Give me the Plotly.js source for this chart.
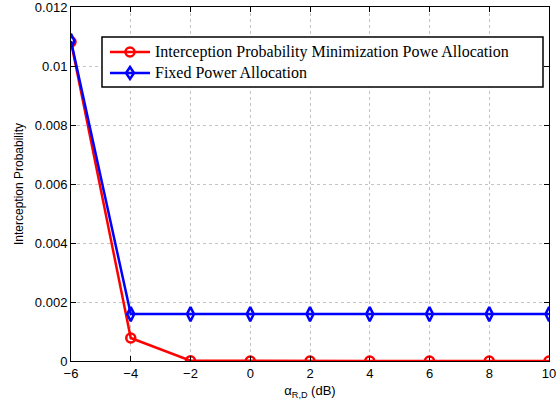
<!DOCTYPE html>
<html>
<head>
<meta charset="utf-8">
<script src="https://cdn.plot.ly/plotly-3.0.1.min.js"></script>
<style>html,body{margin:0;padding:0;background:#fff;}#chart{width:559px;height:403px;}</style>
</head>
<body>
<div id="chart"></div>
<script>
const alphaDb = [-6, -4, -2, 0, 2, 4, 6, 8, 10];
const ipMinPA = [0.01082, 0.00078, 0.00001, 0.0, 0.0, 0.0, 0.0, 0.0, 0.0];
const fixedPA = [0.01085, 0.00159, 0.00159, 0.00159, 0.00159, 0.00159, 0.00159, 0.00159, 0.00159];
const seriesNames = ['Interception Probability Minimization Powe Allocation', 'Fixed Power Allocation'];
const yTickVals = [0, 0.002, 0.004, 0.006, 0.008, 0.01, 0.012];
const yTickText = ['0', '0.002', '0.004', '0.006', '0.008', '0.01', '0.012'];
const xTickVals = [-6, -4, -2, 0, 2, 4, 6, 8, 10];
const xTickText = ['\u22126', '\u22124', '\u22122', '0', '2', '4', '6', '8', '10'];

const W = 559, H = 403, M = {l: 71, r: 10, t: 7, b: 42};
const pw = W - M.l - M.r, ph = H - M.t - M.b;
const px = x => (x - M.l) / pw;
const py = y => (H - M.b - y) / ph;

const colors = ['#ff0000', '#0000ff'];
const traces = [
  {x: alphaDb, y: ipMinPA, name: seriesNames[0], showlegend: false,
   mode: 'lines+markers', line: {color: colors[0], width: 2.5},
   marker: {symbol: 'circle-open', size: 9, color: colors[0], line: {width: 2.5}}},
  {x: alphaDb, y: fixedPA, name: seriesNames[1], showlegend: false,
   mode: 'lines+markers', line: {color: colors[1], width: 2.5},
   marker: {symbol: 'diamond-tall-open', size: 10, color: colors[1], line: {width: 2.5}}}
];

// manual legend (MATLAB style box)
const rowY = [52, 73];
const shapes = [
  {type: 'rect', xref: 'paper', yref: 'paper', x0: px(102), x1: px(543), y0: py(87), y1: py(37),
   line: {color: '#000', width: 1.5}, fillcolor: '#fff', layer: 'above'}
];
const annotations = [];
rowY.forEach((ry, i) => {
  shapes.push({type: 'line', xref: 'paper', yref: 'paper', x0: px(110), x1: px(150), y0: py(ry), y1: py(ry),
    line: {color: colors[i], width: 2.5}, layer: 'above'});
  annotations.push({xref: 'paper', yref: 'paper', x: px(153), y: py(ry), xanchor: 'left', yanchor: 'middle',
    text: seriesNames[i], showarrow: false,
    font: {family: 'Liberation Serif, Times New Roman', size: 16, color: '#000'}});
});
// legend marker glyphs
const cx = 130;
shapes.push({type: 'circle', xref: 'paper', yref: 'paper', x0: px(cx - 4.5), x1: px(cx + 4.5),
  y0: py(rowY[0] + 4.5), y1: py(rowY[0] - 4.5), line: {color: colors[0], width: 2.5}, fillcolor: 'rgba(0,0,0,0)', layer: 'above'});
const dY = rowY[1];
shapes.push({type: 'path', xref: 'paper', yref: 'paper',
  path: `M ${px(cx)} ${py(dY - 6)} L ${px(cx + 4)} ${py(dY)} L ${px(cx)} ${py(dY + 6)} L ${px(cx - 4)} ${py(dY)} Z`,
  line: {color: colors[1], width: 2.5}, fillcolor: 'rgba(0,0,0,0)', layer: 'above'});

const axisCommon = {
  showline: true, linecolor: '#000', linewidth: 1, mirror: 'ticks',
  ticks: 'inside', ticklen: 5, tickcolor: '#000',
  showgrid: true, gridcolor: '#c4c4c4', griddash: 'dot', gridwidth: 1,
  zeroline: false, ticklabeloverflow: 'allow',
  tickfont: {family: 'Liberation Sans, Arial', size: 13, color: '#000'}
};
const layout = {
  width: W, height: H,
  margin: M,
  paper_bgcolor: '#fff', plot_bgcolor: '#fff',
  showlegend: false,
  shapes: shapes, annotations: annotations,
  xaxis: Object.assign({}, axisCommon, {range: [-6, 10], tickvals: xTickVals, ticktext: xTickText,
    title: {text: '\u03b1<sub>R,D</sub> (dB)', font: {family: 'Liberation Sans, Arial', size: 13, color: '#000'}, standoff: 6}}),
  yaxis: Object.assign({}, axisCommon, {range: [0, 0.012], tickvals: yTickVals, ticktext: yTickText,
    title: {text: 'Interception Probability', font: {family: 'Liberation Sans, Arial', size: 12, color: '#000'}, standoff: 8}})
};
Plotly.newPlot('chart', traces, layout, {displayModeBar: false, staticPlot: true});
</script>
</body>
</html>
